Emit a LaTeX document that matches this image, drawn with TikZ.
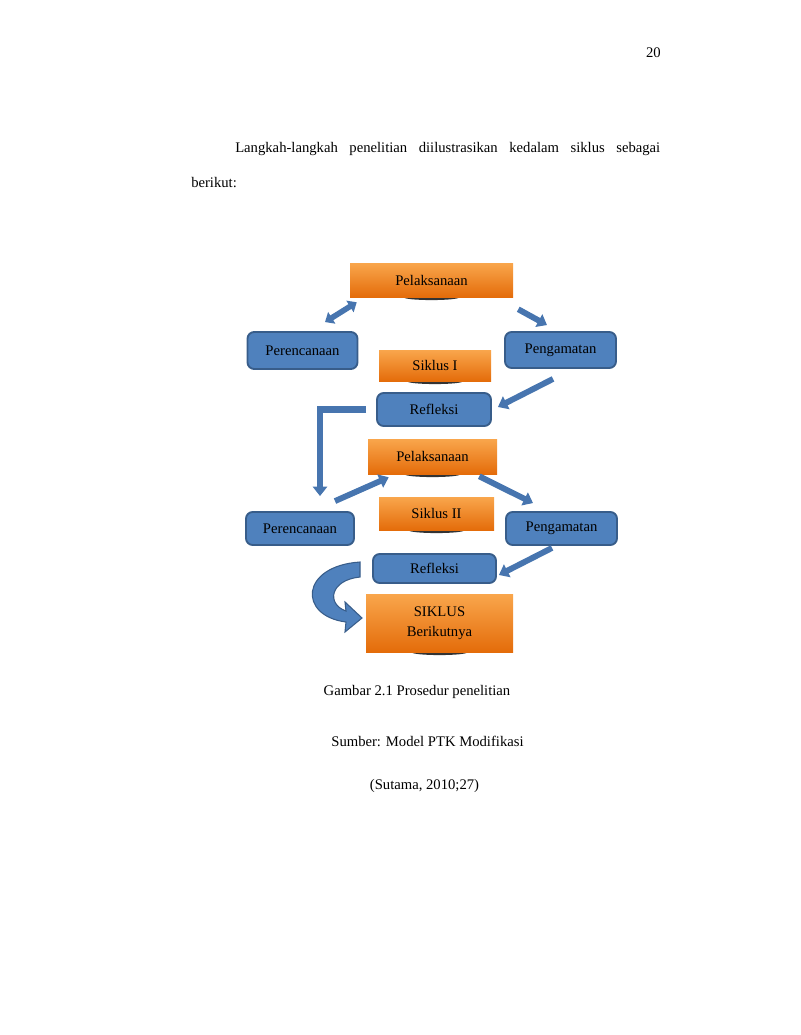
\documentclass[tikz,border=0pt]{standalone}
\usepackage{fontspec}
\setmainfont{Liberation Serif}
\usetikzlibrary{arrows.meta, positioning, backgrounds}

\definecolor{boxblue}{HTML}{4F81BD}
\definecolor{boxline}{HTML}{385D8A}
\definecolor{arrowblue}{HTML}{4775AF}
\definecolor{orangetop}{HTML}{F9A64C}
\definecolor{orangebot}{HTML}{E46C0A}

\begin{document}
\begin{tikzpicture}[x=0.75pt, y=-0.75pt,
    every node/.style={font=\fontsize{11}{13}\selectfont, inner sep=0pt},
    blok/.style={draw=boxline, line width=1.4pt, fill=boxblue, rounded corners=5pt},
    oren/.style={top color=orangetop, bottom color=orangebot},
    panah/.style={draw=arrowblue, line width=4.4pt, -{Triangle[length=7pt,width=10.5pt]}},
    panahdua/.style={draw=arrowblue, line width=4.2pt, {Triangle[length=6pt,width=10pt]}-{Triangle[length=6pt,width=10pt]}}]

    \useasboundingbox (0,0) rectangle (800,1035);

    % --- 1. Page number and text ---
    \node [anchor=base east] (hal) at (661,57) {20};
    \node [anchor=base west] (baris1) at (235,152) {\makebox[318.75pt][s]{Langkah-langkah penelitian diilustrasikan kedalam siklus sebagai}};
    \node [anchor=base west] (baris2) at (191,187) {berikut:};

    % --- 2. Siklus I ---
    \node [oren, minimum width=122.25pt, minimum height=25.5pt] (pel1) at (431.5,280) {Pelaksanaan};
    \node [blok, minimum width=82.5pt, minimum height=27.75pt] (pre1) at (302.5,350.5) {Perencanaan};
    \node [blok, minimum width=83.25pt, minimum height=27pt] (pen1) at (560.5,350) {Pengamatan};
    \node [oren, minimum width=84pt, minimum height=23.25pt] (sik1) at (435,365.5) {Siklus I};
    \node [blok, minimum width=85.5pt, minimum height=24.75pt] (ref1) at (434,409.5) {Refleksi};

    \draw [panahdua] ([shift={(22.5,-9)}]pre1.north) -- ([shift={(7,5)}]pel1.south west);
    \draw [panah] ([shift={(5,12)}]pel1.south east) -- ([shift={(-13.5,-6)}]pen1.north);
    \draw [panah] ([shift={(-7.5,10)}]pen1.south) -- ([shift={(6,-2.5)}]ref1.east);

    % --- 3. Siklus II ---
    \node [oren, minimum width=96.75pt, minimum height=26.25pt] (pel2) at (432.5,456.5) {Pelaksanaan};
    \node [blok, minimum width=81pt, minimum height=24.75pt] (pre2) at (300,528.5) {Perencanaan};
    \node [oren, minimum width=86.25pt, minimum height=24.75pt] (sik2) at (436.5,513.5) {Siklus II};
    \node [blok, minimum width=83.25pt, minimum height=24.75pt] (pen2) at (561.5,528.5) {Pengamatan};
    \node [blok, minimum width=92.25pt, minimum height=21.75pt] (ref2) at (434.5,568.5) {Refleksi};
    \node [oren, minimum width=110.25pt, minimum height=43.5pt, align=center,
           font=\fontsize{11}{15}\selectfont] (lanjut) at (439.5,623) {SIKLUS\\Berikutnya};

    % siku dari Refleksi I ke Perencanaan II
    \draw [panah, line width=5pt] ([shift={(-10,0)}]ref1.west) -| ([shift={(20,-15)}]pre2.north);
    \draw [panah] ([shift={(35,-10)}]pre2.north) -- ([shift={(21,3)}]pel2.south west);
    \draw [panah] ([shift={(-18,2)}]pel2.south east) -- ([shift={(-28.5,-8)}]pen2.north);
    \draw [panah] ([shift={(-9.5,2)}]pen2.south) -- ([shift={(2,6.5)}]ref2.east);

    % --- 4. Curved block arrow ---
    \filldraw [fill=boxblue, draw=boxline, line width=0.8pt]
        (360,562) .. controls (300,566) and (298,616) .. (346,622)
        -- (345,632) -- (362,618) -- (345,602) -- (346,611)
        .. controls (326,604) and (330,580) .. (360,577) -- cycle;

    % bayangan di bawah kotak oranye
    \begin{scope}[on background layer]
        \foreach \n in {pel1, sik1, pel2, sik2, lanjut}
            \fill [black!80] (\n.south) ellipse (28 and 2.8);
    \end{scope}

    % --- 5. Caption ---
    \node (gambar) at (417,692) {Gambar 2.1 Prosedur penelitian};
    \node (sumber) at (427.5,741) {Sumber: Model PTK Modifikasi};
    \node (sutama) at (424.5,786) {(Sutama, 2010;27)};

\end{tikzpicture}
\end{document}
